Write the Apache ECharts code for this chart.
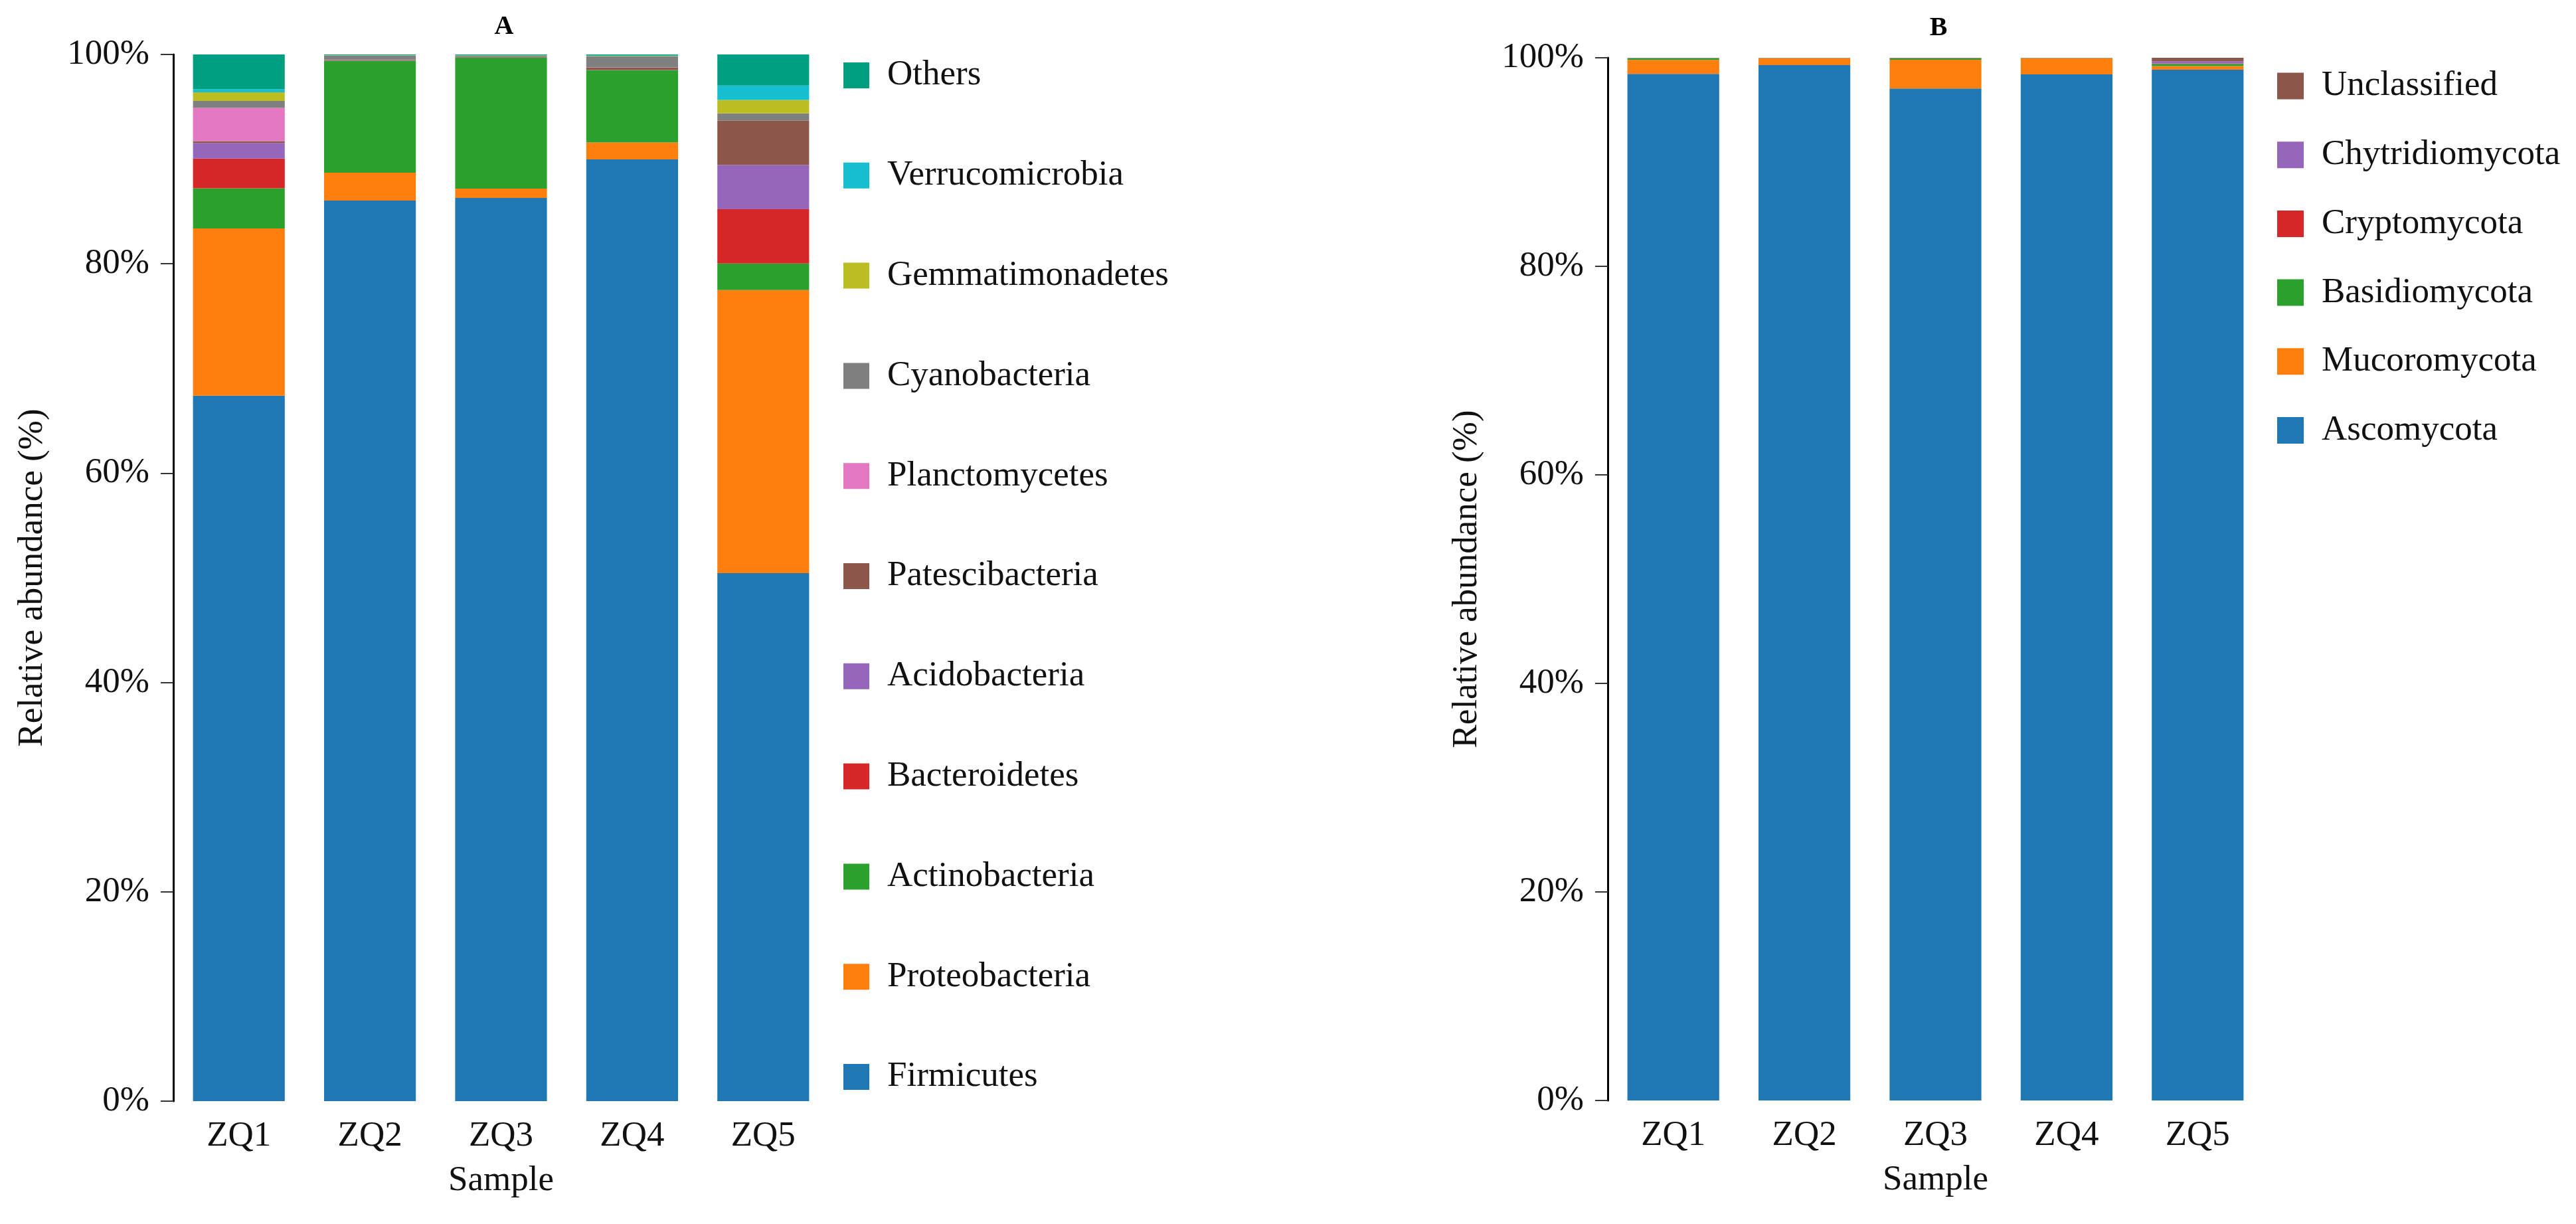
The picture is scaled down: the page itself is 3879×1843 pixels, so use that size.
<!DOCTYPE html>
<html>
<head>
<meta charset="utf-8">
<script src="https://cdn.jsdelivr.net/npm/echarts@6/dist/echarts.min.js"></script>
<style>
  html, body { margin: 0; padding: 0; background: #ffffff; }
  #chart { width: 3879px; height: 1843px; }
</style>
</head>
<body>
<div id="chart"></div>
<script>
// ---------- Data ----------
const samples = ['ZQ1', 'ZQ2', 'ZQ3', 'ZQ4', 'ZQ5'];
const yTicks = [0, 20, 40, 60, 80, 100];

// Panel A: bacterial phyla (relative abundance, %)
const firmicutes       = [67.40, 86.04, 86.29, 89.97, 50.44];
const proteobacteria   = [15.97,  2.66,  0.90,  1.62, 27.05];
const actinobacteria   = [ 3.85, 10.70, 12.49,  6.90,  2.54];
const bacteroidetes    = [ 2.83,  0.02,  0.01,  0.01,  5.18];
const acidobacteria    = [ 1.50,  0.02,  0.01,  0.01,  4.23];
const patescibacteria  = [ 0.17,  0.05,  0.05,  0.23,  4.23];
const planctomycetes   = [ 3.17,  0.02,  0.01,  0.03,  0.00];
const cyanobacteria    = [ 0.67,  0.38,  0.12,  1.05,  0.70];
const gemmatimonadetes = [ 0.82,  0.03,  0.02,  0.04,  1.29];
const verrucomicrobia  = [ 0.30,  0.02,  0.02,  0.03,  1.37];
const others           = [ 3.32,  0.06,  0.08,  0.12,  2.98];

// Panel B: fungal phyla (relative abundance, %)
const ascomycota      = [98.45, 99.30, 97.05, 98.40, 98.85];
const mucoromycota    = [ 1.35,  0.65,  2.76,  1.55,  0.36];
const basidiomycota   = [ 0.15,  0.03,  0.15,  0.03,  0.20];
const cryptomycota    = [ 0.02,  0.01,  0.02,  0.01,  0.05];
const chytridiomycota = [ 0.02,  0.01,  0.02,  0.01,  0.20];
const unclassified    = [ 0.01,  0.00,  0.00,  0.00,  0.34];

const seriesA = [
  ['Firmicutes', firmicutes, '#1f77b4'],
  ['Proteobacteria', proteobacteria, '#ff7f0e'],
  ['Actinobacteria', actinobacteria, '#2ca02c'],
  ['Bacteroidetes', bacteroidetes, '#d62728'],
  ['Acidobacteria', acidobacteria, '#9467bd'],
  ['Patescibacteria', patescibacteria, '#8c564b'],
  ['Planctomycetes', planctomycetes, '#e377c2'],
  ['Cyanobacteria', cyanobacteria, '#7f7f7f'],
  ['Gemmatimonadetes', gemmatimonadetes, '#bcbd22'],
  ['Verrucomicrobia', verrucomicrobia, '#17becf'],
  ['Others', others, '#009f82']
];
const seriesB = [
  ['Ascomycota', ascomycota, '#1f77b4'],
  ['Mucoromycota', mucoromycota, '#ff7f0e'],
  ['Basidiomycota', basidiomycota, '#2ca02c'],
  ['Cryptomycota', cryptomycota, '#d62728'],
  ['Chytridiomycota', chytridiomycota, '#9467bd'],
  ['Unclassified', unclassified, '#8c564b']
];

// ---------- Style ----------
const FONT = "'Liberation Serif', 'Times New Roman', serif";
const FS = 53;
const TXT = '#111111';

function xAxisCfg(gridIndex) {
  return {
    type: 'category', gridIndex: gridIndex, data: samples,
    name: 'Sample', nameLocation: 'middle', nameGap: 94,
    nameTextStyle: { fontFamily: FONT, fontSize: FS, color: TXT },
    axisLine: { show: false }, axisTick: { show: false },
    axisLabel: { fontFamily: FONT, fontSize: FS, color: TXT, margin: 27 },
    splitLine: { show: false }
  };
}
function yAxisCfg(gridIndex) {
  return {
    type: 'value', gridIndex: gridIndex, min: 0, max: 100, interval: 20,
    name: 'Relative abundance (%)', nameLocation: 'middle', nameGap: 185,
    nameRotate: 90,
    nameTextStyle: { fontFamily: FONT, fontSize: FS, color: TXT },
    axisLine: { show: true, lineStyle: { color: '#000000', width: 3 } },
    axisTick: { show: true, length: 19, inside: false, lineStyle: { color: '#333333', width: 2 } },
    axisLabel: { fontFamily: FONT, fontSize: FS, color: TXT, margin: 36,
                 formatter: function (v) { return v + '%'; } },
    splitLine: { show: false }
  };
}
function barSeries(list, axisIdx, stack) {
  return list.map(function (s) {
    return {
      name: s[0], type: 'bar', stack: stack,
      xAxisIndex: axisIdx, yAxisIndex: axisIdx,
      data: s[1], barCategoryGap: '30%',
      itemStyle: { color: s[2], borderWidth: 0 },
      emphasis: { disabled: true }
    };
  });
}

const chart = echarts.init(document.getElementById('chart'), null, { renderer: 'canvas' });
chart.setOption({
  backgroundColor: '#ffffff',
  animation: false,
  title: [
    { text: 'A', left: 754, top: 16, textAlign: 'center',
      textStyle: { fontFamily: FONT, fontSize: 40, fontWeight: 'bold', color: '#000' } },
    { text: 'B', left: 2914, top: 18, textAlign: 'center',
      textStyle: { fontFamily: FONT, fontSize: 40, fontWeight: 'bold', color: '#000' } }
  ],
  grid: [
    { left: 261, top: 82, width: 987, height: 1576, containLabel: false },
    { left: 2421, top: 87, width: 987, height: 1570, containLabel: false }
  ],
  xAxis: [xAxisCfg(0), xAxisCfg(1)],
  yAxis: [yAxisCfg(0), yAxisCfg(1)],
  legend: [
    {
      orient: 'vertical', left: 1265, top: 82, itemWidth: 39, itemHeight: 39,
      itemGap: 97.8, icon: 'rect', selectedMode: false,
      itemStyle: { borderWidth: 0 },
      textStyle: { fontFamily: FONT, fontSize: FS, color: TXT, padding: [0, 0, 0, 22] },
      data: seriesA.map(function (s) { return s[0]; }).reverse()
    },
    {
      orient: 'vertical', left: 3424, top: 98, itemWidth: 40, itemHeight: 40,
      itemGap: 50.7, icon: 'rect', selectedMode: false,
      itemStyle: { borderWidth: 0 },
      textStyle: { fontFamily: FONT, fontSize: FS, color: TXT, padding: [0, 0, 0, 22] },
      data: seriesB.map(function (s) { return s[0]; }).reverse()
    }
  ],
  series: barSeries(seriesA, 0, 'A').concat(barSeries(seriesB, 1, 'B'))
});
</script>
</body>
</html>
